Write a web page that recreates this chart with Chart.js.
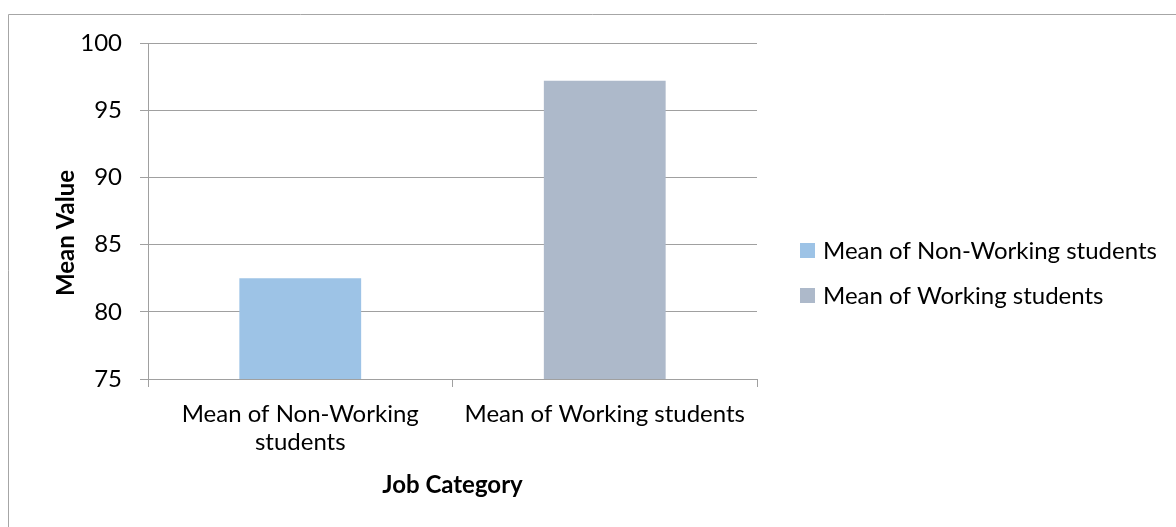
<!DOCTYPE html>
<html>
<head>
<meta charset="utf-8">
<script src="https://cdn.jsdelivr.net/npm/chart.js@4"></script>
<style>
  html, body { margin: 0; padding: 0; background: #fff; }
  #wrap { width: 1176px; height: 527px; position: relative; }
</style>
</head>
<body>
<div id="wrap"><canvas id="myChart"></canvas></div>
<script>
const categories = ["Mean of Non-Working students", "Mean of Working students"];
const tickLabels = [["Mean of Non-Working", "students"], "Mean of Working students"];
const nonWorking = [82.5, null];
const working = [null, 97.2];
const yTicks = [75, 80, 85, 90, 95, 100];

const FONT = "Lato, 'Open Sans', sans-serif";
const GRID = "#a0a0a0";

// frame + legend + y title drawn on the canvas
const extras = {
  id: "extras",
  beforeDraw(chart) {
    const ctx = chart.ctx;
    ctx.save();
    ctx.fillStyle = "#fff";
    ctx.fillRect(0, 0, chart.width, chart.height);
    ctx.strokeStyle = "#a6a6a6";
    ctx.lineWidth = 1;
    ctx.beginPath();
    ctx.moveTo(8.5, chart.height);
    ctx.lineTo(8.5, 14.5);
    ctx.lineTo(chart.width, 14.5);
    ctx.stroke();
    ctx.restore();
  },
  afterDraw(chart) {
    const ctx = chart.ctx;
    ctx.save();
    // y axis title
    ctx.font = "bold 24px " + FONT;
    ctx.fillStyle = "#000";
    ctx.textAlign = "center";
    ctx.textBaseline = "middle";
    ctx.translate(66, 233);
    ctx.rotate(-Math.PI / 2);
    ctx.fillText("Mean Value", 0, 0);
    ctx.restore();

    // legend
    ctx.save();
    ctx.font = "24px " + FONT;
    ctx.textBaseline = "middle";
    ctx.textAlign = "left";
    chart.data.datasets.forEach((ds, i) => {
      const y = 251 + i * 45;
      ctx.fillStyle = ds.backgroundColor;
      ctx.fillRect(800, y - 8, 15, 15);
      ctx.fillStyle = "#000";
      ctx.fillText(ds.label, 823, y);
    });
    ctx.restore();
  }
};

new Chart(document.getElementById("myChart"), {
  type: "bar",
  data: {
    labels: tickLabels,
    datasets: [
      { label: categories[0], data: nonWorking, backgroundColor: "#9DC3E6" },
      { label: categories[1], data: working, backgroundColor: "#ADB9CA" },
    ],
  },
  options: {
    responsive: true,
    maintainAspectRatio: false,
    animation: false,
    categoryPercentage: 0.8,
    barPercentage: 0.5,
    grouped: false,
    layout: { padding: { left: 0, right: 419, top: 43, bottom: 0 } },
    scales: {
      x: {
        afterFit: (s) => { s.height = 148; },
        grid: {
          display: true,
          drawOnChartArea: false,
          drawTicks: true,
          tickLength: 8,
          color: GRID,
          offset: true,
        },
        border: { color: GRID },
        ticks: {
          color: "#000",
          padding: 13,
          maxRotation: 0,
          autoSkip: false,
          font: { family: FONT, size: 24, lineHeight: 1.17 },
        },
        title: {
          display: true,
          text: "Job Category",
          color: "#000",
          font: { family: FONT, size: 24, weight: "bold" },
          padding: { top: 0, bottom: 27 },
        },
      },
      y: {
        min: 75,
        max: 100,
        afterFit: (s) => { s.width = 148; },
        afterBuildTicks: (s) => { s.ticks = yTicks.map((v) => ({ value: v })); },
        grid: { color: GRID, tickLength: 8 },
        border: { color: GRID },
        ticks: {
          color: "#000",
          padding: 18,
          font: { family: FONT, size: 24 },
        },
      },
    },
    plugins: {
      legend: { display: false },
      tooltip: { enabled: false },
    },
  },
  plugins: [extras],
});
</script>
</body>
</html>
